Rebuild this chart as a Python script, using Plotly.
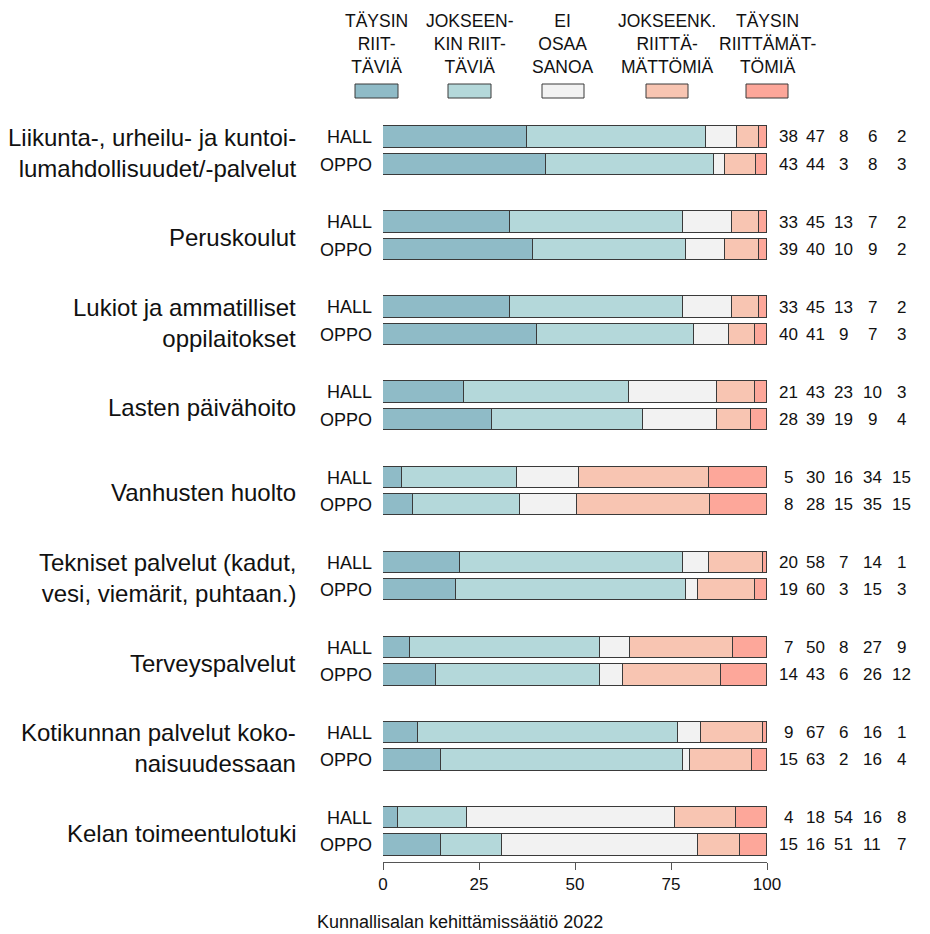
import plotly.graph_objects as go

# ---------------- data ----------------
categories = [
    "Liikunta-, urheilu- ja kuntoi-<br>lumahdollisuudet/-palvelut",
    "Peruskoulut",
    "Lukiot ja ammatilliset<br>oppilaitokset",
    "Lasten päivähoito",
    "Vanhusten huolto",
    "Tekniset palvelut (kadut,<br>vesi, viemärit, puhtaan.)",
    "Terveyspalvelut",
    "Kotikunnan palvelut koko-<br>naisuudessaan",
    "Kelan toimeentulotuki",
]
groups = ["HALL", "OPPO"]
series_names = [
    "TÄYSIN<br>RIIT-<br>TÄVIÄ",
    "JOKSEEN-<br>KIN RIIT-<br>TÄVIÄ",
    "EI<br>OSAA<br>SANOA",
    "JOKSEENK.<br>RIITTÄ-<br>MÄTTÖMIÄ",
    "TÄYSIN<br>RIITTÄMÄT-<br>TÖMIÄ",
]
hall_values = [
    [38, 47, 8, 6, 2],
    [33, 45, 13, 7, 2],
    [33, 45, 13, 7, 2],
    [21, 43, 23, 10, 3],
    [5, 30, 16, 34, 15],
    [20, 58, 7, 14, 1],
    [7, 50, 8, 27, 9],
    [9, 67, 6, 16, 1],
    [4, 18, 54, 16, 8],
]
oppo_values = [
    [43, 44, 3, 8, 3],
    [39, 40, 10, 9, 2],
    [40, 41, 9, 7, 3],
    [28, 39, 19, 9, 4],
    [8, 28, 15, 35, 15],
    [19, 60, 3, 15, 3],
    [14, 43, 6, 26, 12],
    [15, 63, 2, 16, 4],
    [15, 16, 51, 11, 7],
]
x_ticks = [0, 25, 50, 75, 100]
caption = "Kunnallisalan kehittämissäätiö 2022"

# ---------------- styling ----------------
colors = ["#8FBBC7", "#B4D8DA", "#F2F2F2", "#F8C5B2", "#FDA79A"]
outline = "#3a3a3a"
FONT = "Liberation Sans, Arial, sans-serif"
OFF = 8  # page body margin
W, H = 930 - OFF, 934 - OFF
PLOT_L, PLOT_R, PLOT_T, PLOT_B = 383, 767, 115, 862  # target pixel box
ML, MR = PLOT_L - OFF, W - (PLOT_R - OFF)
MT, MB = PLOT_T - OFF, H - (PLOT_B - OFF)
PW, PH = PLOT_R - PLOT_L, PLOT_B - PLOT_T

GROUP_STEP = 3.1
BAR_W = 0.78
Y_RANGE = [26.42, -0.80]


def px_x(px):
    return (px - PLOT_L) / PW


def px_y(py):
    return (PLOT_B - py) / PH


# row positions & values
ypos, rows, ticktext = [], [], []
for i in range(len(categories)):
    base = i * GROUP_STEP
    for j, vals in enumerate((hall_values[i], oppo_values[i])):
        ypos.append(base + j)
        rows.append(vals)
        ticktext.append(groups[j])

fig = go.Figure()
for k in range(len(series_names)):
    xs = [r[k] / sum(r) * 100 for r in rows]
    fig.add_trace(go.Bar(
        x=xs, y=ypos, orientation="h", width=BAR_W,
        marker=dict(color=colors[k], line=dict(color=outline, width=1)),
        name=series_names[k], showlegend=False,
    ))

annotations = []
# category labels
for i, cat in enumerate(categories):
    annotations.append(dict(
        x=px_x(298), xref="paper", y=i * GROUP_STEP + 0.5, yref="y",
        text=cat, showarrow=False, xanchor="right", yanchor="middle",
        align="right", yshift=-2,
        font=dict(family=FONT, size=24, color="#111111"),
    ))

# numbers on the right
num_cols_px = [788, 815, 843, 872, 901]
for y, r in zip(ypos, rows):
    for k, v in enumerate(r):
        annotations.append(dict(
            x=px_x(num_cols_px[k]), xref="paper", y=y, yref="y",
            text=str(v), showarrow=False, xanchor="center", yanchor="middle",
            font=dict(family=FONT, size=17, color="#111111"),
        ))

# custom legend
shapes = []
box_px = [(355, 398), (448, 491), (542, 584), (646, 688), (746, 788)]
for k, (x0, x1) in enumerate(box_px):
    shapes.append(dict(
        type="rect", xref="paper", yref="paper",
        x0=px_x(x0), x1=px_x(x1), y0=px_y(98), y1=px_y(84),
        fillcolor=colors[k], line=dict(color=outline, width=1),
    ))
    annotations.append(dict(
        x=px_x((x0 + x1) / 2), xref="paper", y=px_y(44), yref="paper",
        text=series_names[k], showarrow=False, xanchor="center", yanchor="middle",
        align="center", font=dict(family=FONT, size=17.5, color="#111111"),
    ))

# caption
annotations.append(dict(
    x=px_x(460), xref="paper", y=px_y(922), yref="paper",
    text=caption, showarrow=False, xanchor="center", yanchor="middle",
    font=dict(family=FONT, size=18, color="#111111"),
))

fig.update_layout(
    width=W, height=H,
    margin=dict(l=ML, r=MR, t=MT, b=MB, pad=0),
    barmode="stack", bargap=0,
    plot_bgcolor="white", paper_bgcolor="white",
    font=dict(family=FONT, color="#111111"),
    xaxis=dict(
        range=[0, 100], tickvals=x_ticks, ticktext=[str(t) for t in x_ticks],
        showgrid=False, zeroline=False, showline=True, linecolor="#555555",
        linewidth=1, ticks="outside", ticklen=7, tickcolor="#555555",
        tickfont=dict(family=FONT, size=17, color="#111111"), fixedrange=True,
    ),
    yaxis=dict(
        range=Y_RANGE, tickvals=ypos, ticktext=ticktext,
        showgrid=False, zeroline=False, showline=False, ticks="",
        ticklabelstandoff=10,
        tickfont=dict(family=FONT, size=18, color="#111111"), fixedrange=True,
    ),
    shapes=shapes,
    annotations=annotations,
)

fig.write_html("out.html")
